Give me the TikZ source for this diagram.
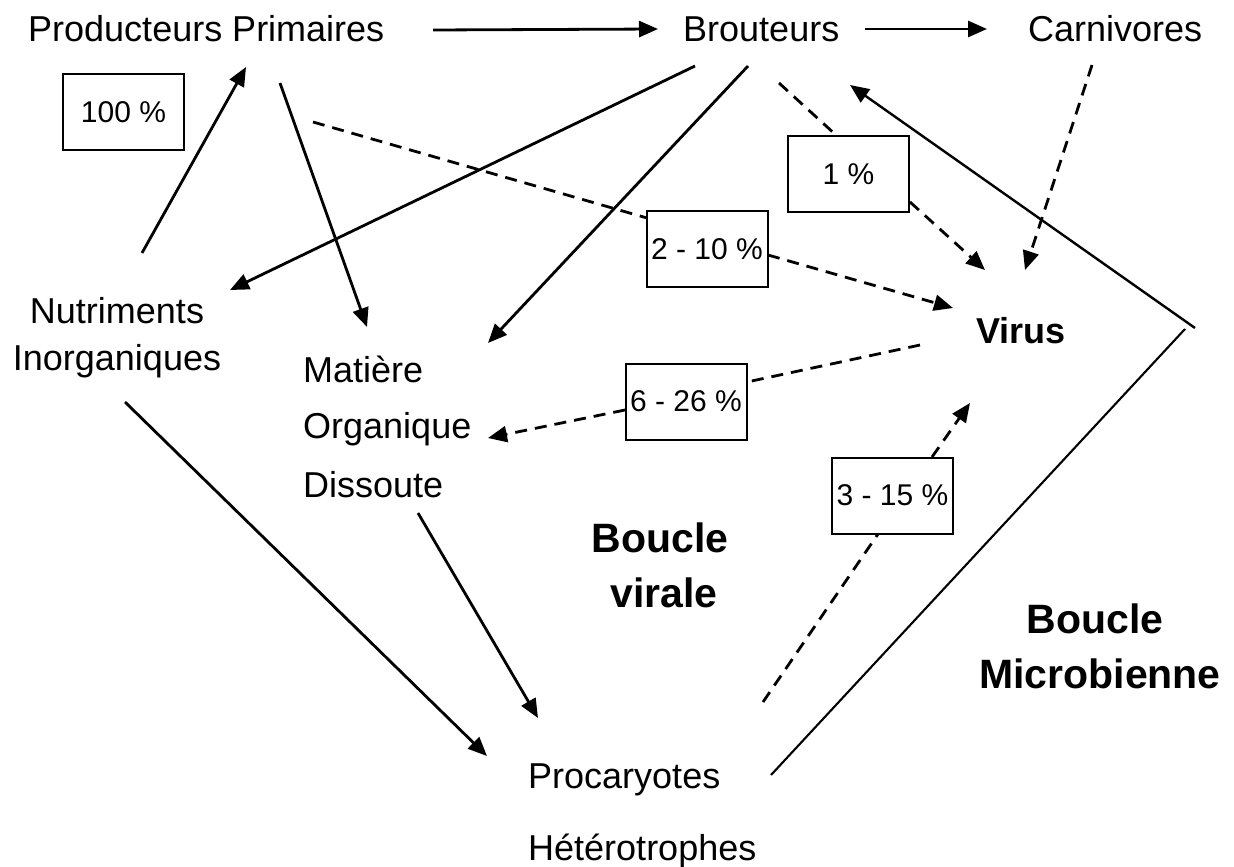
\documentclass[tikz,border=0pt]{standalone}
\usepackage{fontspec}
\setmainfont{Liberation Sans}
\usetikzlibrary{arrows.meta}
\begin{document}
\begin{tikzpicture}[x=1pt,y=-1pt,
  lbl/.style={inner sep=0pt, font=\fontsize{36}{43}\selectfont},
  boldlbl/.style={inner sep=0pt, font=\fontsize{41}{49}\selectfont\bfseries},
  pct/.style={draw, line width=2pt, minimum width=121pt, minimum height=76pt, inner sep=0pt, font=\fontsize{30}{36}\selectfont},
  flow/.style={line width=2.8pt, -{Triangle[length=19pt,width=16pt]}},
  dflow/.style={flow, dash pattern=on 12pt off 8pt},
  dline/.style={line width=2.8pt, dash pattern=on 12pt off 8pt},
  thinline/.style={line width=2.1pt},
]
\useasboundingbox (0,0) rectangle (1234,867);

% text nodes
\node[lbl, anchor=base west] (pp) at (28,42) {Producteurs Primaires};
\node[lbl, anchor=base west] (br) at (683,42) {Brouteurs};
\node[lbl, anchor=base west] (ca) at (1028,42) {Carnivores};
\node[lbl, anchor=base] (nu1) at (117,323) {Nutriments};
\node[lbl, anchor=base] (nu2) at (117,370) {Inorganiques};
\node[lbl, anchor=base west] (mo1) at (303,382) {Matière};
\node[lbl, anchor=base west] (mo2) at (303,438) {Organique};
\node[lbl, anchor=base west] (mo3) at (303,497) {Dissoute};
\node[lbl, anchor=base west] (ph1) at (528,788) {Procaryotes};
\node[lbl, anchor=base west] (ph2) at (528,860) {Hétérotrophes};
\node[lbl, font=\fontsize{36}{43}\selectfont\bfseries, anchor=base west] (vi) at (976,343) {Virus};
\node[boldlbl, anchor=base] (bv1) at (660,552) {Boucle};
\node[boldlbl, anchor=base] (bv2) at (664,607) {virale};
\node[boldlbl, anchor=base] (bm1) at (1095,633) {Boucle};
\node[boldlbl, anchor=base] (bm2) at (1100,688) {Microbienne};

% percentage boxes
\node[pct] (b100) at (123.5,112) {100 \%};
\node[pct] (b1) at (848.5,174) {1 \%};
\node[pct] (b210) at (707,249) {2 - 10 \%};
\node[pct] (b626) at (686,401.5) {6 - 26 \%};
\node[pct] (b315) at (892.5,495.5) {3 - 15 \%};

% connector end points
\coordinate (ppE) at (433,30);
\coordinate (brW) at (658,29);
\coordinate (brE) at (865,29);
\coordinate (caW) at (987,29);
\coordinate (nuT) at (142,253);
\coordinate (ppB) at (246,67);
\coordinate (ppS) at (280,83);
\coordinate (moT) at (367,327);
\coordinate (brSW) at (695,66);
\coordinate (nuE) at (230,290);
\coordinate (brS) at (748,66);
\coordinate (moE) at (488,343);
\coordinate (ppD) at (313,122);
\coordinate (b210in) at (647,218);
\coordinate (b210out) at (768,255);
\coordinate (viA) at (953,308);
\coordinate (brD) at (779,83);
\coordinate (b1in) at (837,136);
\coordinate (b1out) at (910,202);
\coordinate (viB) at (985,270);
\coordinate (caD) at (1092,65);
\coordinate (viC) at (1025,270);
\coordinate (cornerA) at (1195,328);
\coordinate (brR) at (850,85);
\coordinate (cornerB) at (1185,329);
\coordinate (phE) at (771,775);
\coordinate (viL) at (920,345);
\coordinate (b626in) at (747,382);
\coordinate (b626out) at (625,410);
\coordinate (moR) at (488,438);
\coordinate (nuB) at (125,402);
\coordinate (phL) at (487,756);
\coordinate (moB) at (418,513);
\coordinate (phT) at (538,718);
\coordinate (phD) at (763,702);
\coordinate (b315in) at (878,534);
\coordinate (b315out) at (932,457);
\coordinate (viD) at (970,403);

% solid flows
\draw[flow] (ppE) -- (brW);
\draw[flow] (brE) -- (caW);
\draw[flow] (nuT) -- (ppB);
\draw[flow] (ppS) -- (moT);
\draw[flow] (brSW) -- (nuE);
\draw[flow] (brS) -- (moE);
\draw[flow] (nuB) -- (phL);
\draw[flow] (moB) -- (phT);
\draw[flow, line width=2.4pt] (cornerA) -- (brR);
\draw[thinline] (cornerB) -- (phE);

% dashed flows through percentage boxes
\draw[dline] (ppD) -- (b210in);
\draw[dflow] (b210out) -- (viA);
\draw[dline] (brD) -- (b1in);
\draw[dflow] (b1out) -- (viB);
\draw[dflow] (caD) -- (viC);
\draw[dline] (viL) -- (b626in);
\draw[dflow] (b626out) -- (moR);
\draw[dline] (phD) -- (b315in);
\draw[dflow] (b315out) -- (viD);
\end{tikzpicture}
\end{document}
